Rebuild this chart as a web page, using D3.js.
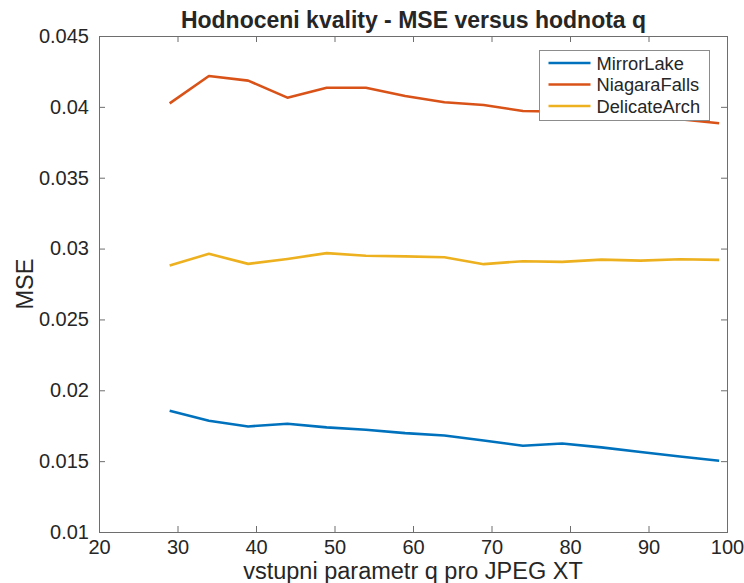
<!DOCTYPE html>
<html>
<head>
<meta charset="utf-8">
<script src="https://cdn.jsdelivr.net/npm/d3@7"></script>
<style>
  html, body { margin: 0; padding: 0; background: #fff; }
  svg { display: block; }
  text { font-family: "Liberation Sans", Arial, sans-serif; fill: #262626; }
</style>
</head>
<body>
<svg id="chart" width="744" height="583"></svg>
<script>
// q parameter values for JPEG XT
const qValues = [29, 34, 39, 44, 49, 54, 59, 64, 69, 74, 79, 84, 89, 94, 99];

// MSE per test image
const mirrorLake   = [0.01856, 0.01785, 0.01745, 0.01764, 0.01738, 0.01722, 0.01698, 0.01681, 0.01646, 0.01609, 0.01625, 0.01597, 0.01564, 0.01533, 0.01503];
const niagaraFalls = [0.04025, 0.04218, 0.04185, 0.04065, 0.04135, 0.04135, 0.04077, 0.04032, 0.04013, 0.03971, 0.03965, 0.03950, 0.03930, 0.03913, 0.03884];
const delicateArch = [0.02880, 0.02963, 0.02892, 0.02927, 0.02968, 0.02949, 0.02945, 0.02939, 0.02890, 0.02911, 0.02906, 0.02922, 0.02915, 0.02925, 0.02920];

const seriesNames  = ["MirrorLake", "NiagaraFalls", "DelicateArch"];
const seriesColors = ["#0072BD", "#D95319", "#EDB120"];
const seriesValues = [mirrorLake, niagaraFalls, delicateArch];

const xTicks = [20, 30, 40, 50, 60, 70, 80, 90, 100];
const yTicks = [0.01, 0.015, 0.02, 0.025, 0.03, 0.035, 0.04, 0.045];

const titleText = "Hodnoceni kvality - MSE versus hodnota q";
const xLabel = "vstupni parametr q pro JPEG XT";
const yLabel = "MSE";

const plot = { left: 99, right: 727, top: 36, bottom: 532 };

const svg = d3.select("#chart");

const x = d3.scaleLinear().domain([20, 100]).range([plot.left, plot.right]);
const y = d3.scaleLinear().domain([0.01, 0.045]).range([plot.bottom, plot.top]);

const tickLen = 6;
const axisColor = "#6e6e6e";

// bottom axis with labels
const gx = svg.append("g")
  .attr("transform", `translate(0,${plot.bottom})`)
  .call(d3.axisBottom(x).tickValues(xTicks).tickSizeInner(-tickLen).tickSizeOuter(0)
        .tickPadding(8).tickFormat(d3.format("d")));
// left axis with labels
const gy = svg.append("g")
  .attr("transform", `translate(${plot.left},0)`)
  .call(d3.axisLeft(y).tickValues(yTicks).tickSizeInner(-tickLen).tickSizeOuter(0)
        .tickPadding(10).tickFormat(d => d3.format("")(+d.toFixed(3))));
// mirrored ticks on top and right
const gxt = svg.append("g")
  .attr("transform", `translate(0,${plot.top})`)
  .call(d3.axisTop(x).tickValues(xTicks).tickSizeInner(-tickLen).tickSizeOuter(0).tickFormat(""));
const gyr = svg.append("g")
  .attr("transform", `translate(${plot.right},0)`)
  .call(d3.axisRight(y).tickValues(yTicks).tickSizeInner(-tickLen).tickSizeOuter(0).tickFormat(""));

[gx, gy, gxt, gyr].forEach(g => {
  g.select(".domain").remove();
  g.selectAll(".tick line").attr("stroke", axisColor).attr("stroke-width", 1);
  g.selectAll("text").attr("font-size", 20).attr("fill", "#262626")
    .attr("font-family", "'Liberation Sans', Arial, sans-serif");
});

// axes box
svg.append("rect")
  .attr("x", plot.left + 0.5).attr("y", plot.top + 0.5)
  .attr("width", plot.right - plot.left).attr("height", plot.bottom - plot.top)
  .attr("fill", "none").attr("stroke", axisColor).attr("stroke-width", 1);

// series lines
const line = d3.line().x((d, i) => x(qValues[i])).y(d => y(d));
seriesValues.forEach((vals, k) => {
  svg.append("path")
    .datum(vals)
    .attr("d", line)
    .attr("fill", "none")
    .attr("stroke", seriesColors[k])
    .attr("stroke-width", 2.6)
    .attr("stroke-linejoin", "round");
});

// title
svg.append("text")
  .attr("x", (plot.left + plot.right) / 2 + 0.5).attr("y", 28)
  .attr("text-anchor", "middle")
  .attr("font-size", 23).attr("font-weight", "bold")
  .attr("fill", "#000")
  .text(titleText);

// axis labels
svg.append("text")
  .attr("x", (plot.left + plot.right) / 2).attr("y", 579)
  .attr("text-anchor", "middle")
  .attr("font-size", 23.5)
  .text(xLabel);

svg.append("text")
  .attr("transform", `translate(33,${(plot.top + plot.bottom) / 2}) rotate(-90)`)
  .attr("text-anchor", "middle")
  .attr("font-size", 23.5)
  .text(yLabel);

// legend
const legend = svg.append("g").attr("transform", "translate(539.5,50.5)");
legend.append("rect")
  .attr("width", 170).attr("height", 70)
  .attr("fill", "#fff").attr("stroke", "#8c8c8c").attr("stroke-width", 1);
seriesNames.forEach((name, k) => {
  const ly = 12.5 + k * 21.5;
  legend.append("line")
    .attr("x1", 9).attr("x2", 51).attr("y1", ly).attr("y2", ly)
    .attr("stroke", seriesColors[k]).attr("stroke-width", 2.6);
  legend.append("text")
    .attr("x", 57).attr("y", ly + 6.5)
    .attr("font-size", 18.3)
    .text(name);
});
</script>
</body>
</html>
